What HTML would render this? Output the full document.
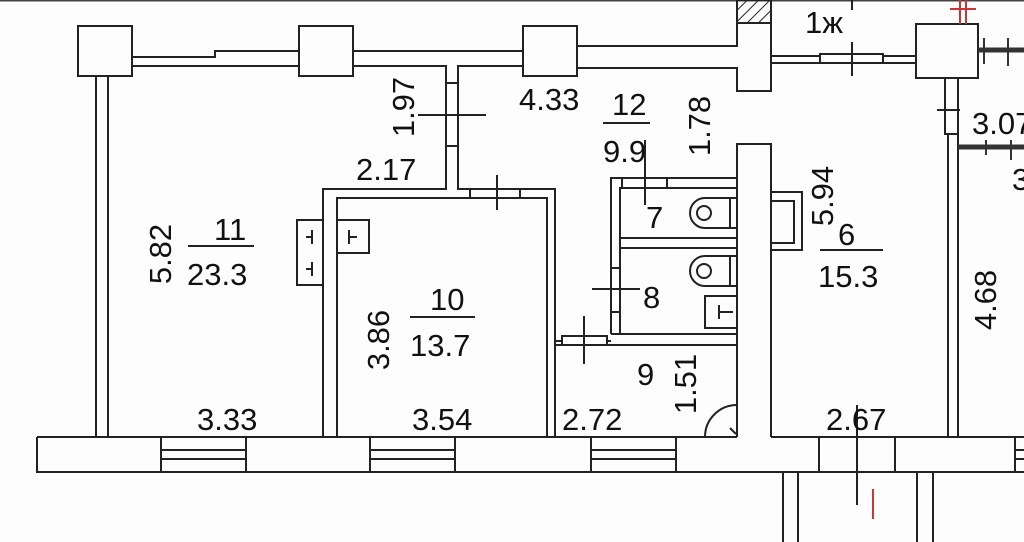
<!DOCTYPE html>
<html><head><meta charset="utf-8"><style>
html,body{margin:0;padding:0;background:#fff}
svg{display:block}
text{font-family:"Liberation Sans",Arial,sans-serif;font-size:31px;fill:#111}
</style></head><body>
<svg width="1024" height="542" viewBox="0 0 1024 542" xmlns="http://www.w3.org/2000/svg">
<defs><pattern id="h" width="8" height="8" patternUnits="userSpaceOnUse" patternTransform="rotate(45)"><line x1="0" y1="0" x2="0" y2="8" stroke="#222" stroke-width="2"/></pattern></defs>
<rect width="1024" height="542" fill="#fdfdfd"/>
<line x1="0" y1="0.5" x2="1024" y2="0.5" stroke="#444" stroke-width="2"/>
<g fill="none" stroke="#222" stroke-width="2">
<!-- pillars -->
<rect x="78" y="26" width="54" height="50"/>
<rect x="299" y="26" width="54" height="50"/>
<rect x="523" y="26" width="54" height="50"/>
<rect x="916" y="24" width="62" height="54"/>
<!-- top walls -->
<polyline points="132,57 215,57 215,51 299,51"/>
<line x1="132" y1="66" x2="299" y2="66"/>
<line x1="353" y1="51" x2="523" y2="51"/>
<polyline points="353,66 446,66 446,189 323,189 323,437"/>
<polyline points="523,66 458,66 458,189 555,189 555,437"/>
<polyline points="337,437 337,198 547,198 547,437"/>
<polyline points="577,46 737,46 737,0"/>
<polyline points="577,68 737,68 737,91 771,91 771,0"/>
<rect x="737" y="0" width="34" height="23" fill="url(#h)"/>
<line x1="771" y1="56" x2="916" y2="56"/>
<line x1="771" y1="63" x2="916" y2="63"/>
<rect x="820" y="54" width="63" height="9" fill="#fff"/>
<line x1="852" y1="42" x2="852" y2="76"/>
<line x1="852" y1="0" x2="852" y2="10"/>
<!-- left wall -->
<line x1="96" y1="76" x2="96" y2="437"/>
<line x1="108" y1="76" x2="108" y2="437"/>
<!-- door 1.97 -->
<rect x="446" y="83" width="12" height="63" fill="#fff"/>
<line x1="418" y1="115" x2="486" y2="115"/>
<!-- door room 10 top -->
<rect x="470" y="189" width="50" height="9" fill="#fff"/>
<line x1="497" y1="175" x2="497" y2="210"/>
<!-- radiators room 11 -->
<rect x="297" y="220" width="26" height="65"/>
<rect x="337" y="220" width="32" height="33"/>
<path d="M312 230v14M306 237h6M312 262v14M306 269h6M349 230v14M349 237h8"/>
<!-- bath block -->
<polyline points="611,334 611,178 737,178"/>
<polyline points="620,334 620,188 737,188"/>
<rect x="622" y="178" width="45" height="10" fill="#fff"/>
<line x1="645" y1="140" x2="645" y2="205"/>
<line x1="620" y1="238" x2="737" y2="238"/>
<line x1="620" y1="248" x2="737" y2="248"/>
<line x1="611" y1="334" x2="737" y2="334"/>
<line x1="555" y1="345" x2="737" y2="345"/>
<line x1="555" y1="341" x2="611" y2="341"/>
<rect x="611" y="268" width="9" height="44" fill="#fff"/>
<line x1="592" y1="289" x2="640" y2="289"/>
<rect x="562" y="336" width="45" height="9" fill="#fff"/>
<line x1="584" y1="316" x2="584" y2="364"/>
<!-- toilets -->
<path d="M737 198h-32a15 15 0 0 0 0 30h32"/><circle cx="704" cy="213" r="7"/><line x1="730" y1="198" x2="730" y2="228"/>
<path d="M737 256h-32a15 15 0 0 0 0 30h32"/><circle cx="704" cy="271" r="7"/><line x1="730" y1="256" x2="730" y2="286"/>
<rect x="705" y="296" width="32" height="32"/><path d="M719 305v14M719 312h14"/>
<!-- central column -->
<polyline points="737,437 737,144 771,144 771,437"/>
<rect x="771" y="192" width="31" height="58"/>
<rect x="771" y="201" width="23" height="42"/>
<!-- right wall -->
<line x1="948" y1="78" x2="948" y2="437"/>
<line x1="958" y1="78" x2="958" y2="437"/>
<rect x="945" y="78" width="13" height="56" fill="#fff"/>
<line x1="937" y1="110" x2="960" y2="110"/>
<!-- door arc room 9 -->
<path d="M705 437a32 32 0 0 1 32 -32"/>
<path d="M730 428l6 6"/>
<!-- bottom wall -->
<polyline points="37,437 37,472 1024,472"/>
<line x1="37" y1="437" x2="737" y2="437"/>
<line x1="771" y1="437" x2="1024" y2="437"/>
<rect x="161" y="437" width="85" height="35"/><line x1="161" y1="450" x2="246" y2="450"/><line x1="161" y1="459" x2="246" y2="459"/>
<rect x="370" y="437" width="85" height="35"/><line x1="370" y1="450" x2="455" y2="450"/><line x1="370" y1="459" x2="455" y2="459"/>
<rect x="591" y="437" width="85" height="35"/><line x1="591" y1="450" x2="676" y2="450"/><line x1="591" y1="459" x2="676" y2="459"/>
<line x1="819" y1="437" x2="819" y2="472"/><line x1="895" y1="437" x2="895" y2="472"/>
<rect x="1015" y="437" width="12" height="35"/><line x1="1015" y1="450" x2="1024" y2="450"/><line x1="1015" y1="459" x2="1024" y2="459"/>
<line x1="857" y1="405" x2="857" y2="505"/>
<line x1="783" y1="472" x2="783" y2="542"/><line x1="798" y1="472" x2="798" y2="542"/>
<line x1="917" y1="472" x2="917" y2="542"/><line x1="933" y1="472" x2="933" y2="542"/>
<!-- fraction lines -->
<line x1="188" y1="246" x2="254" y2="246"/>
<line x1="603" y1="123" x2="650" y2="123"/>
<line x1="410" y1="317" x2="475" y2="317"/>
<line x1="820" y1="250" x2="883" y2="250"/>
</g>
<!-- right thick lines -->
<g stroke="#333">
<line x1="978" y1="50" x2="1024" y2="50" stroke-width="5"/>
<line x1="984" y1="38" x2="984" y2="64" stroke-width="2"/>
<line x1="1008" y1="38" x2="1008" y2="66" stroke-width="2"/>
<line x1="958" y1="147" x2="1024" y2="147" stroke-width="5"/>
<line x1="986" y1="140" x2="986" y2="155" stroke-width="2"/>
<line x1="1011" y1="140" x2="1011" y2="160" stroke-width="2"/>
</g>
<g stroke="#c33" stroke-width="2">
<line x1="960" y1="0" x2="960" y2="24"/><line x1="966" y1="0" x2="966" y2="24"/><line x1="950" y1="9" x2="976" y2="9"/>
<line x1="873" y1="489" x2="873" y2="519"/>
</g>
<!-- labels -->
<text x="805" y="33">1ж</text>
<text x="519" y="110">4.33</text>
<text x="612" y="115">12</text>
<text x="603" y="162">9.9</text>
<text x="356" y="180">2.17</text>
<text x="214" y="240">11</text>
<text x="187" y="285">23.3</text>
<text x="430" y="310">10</text>
<text x="410" y="356">13.7</text>
<text x="197" y="430">3.33</text>
<text x="412" y="430">3.54</text>
<text x="562" y="430">2.72</text>
<text x="637" y="385">9</text>
<text x="646" y="228">7</text>
<text x="643" y="308">8</text>
<text x="838" y="245">6</text>
<text x="818" y="287">15.3</text>
<text x="826" y="430">2.67</text>
<text x="972" y="134">3.07</text>
<text x="1012" y="190">3</text>
<text transform="translate(414,107) rotate(-90)" text-anchor="middle">1.97</text>
<text transform="translate(710,126) rotate(-90)" text-anchor="middle">1.78</text>
<text transform="translate(171,254) rotate(-90)" text-anchor="middle">5.82</text>
<text transform="translate(389,340) rotate(-90)" text-anchor="middle">3.86</text>
<text transform="translate(696,384) rotate(-90)" text-anchor="middle">1.51</text>
<text transform="translate(833,196) rotate(-90)" text-anchor="middle">5.94</text>
<text transform="translate(996,300) rotate(-90)" text-anchor="middle">4.68</text>
</svg>
</body></html>
